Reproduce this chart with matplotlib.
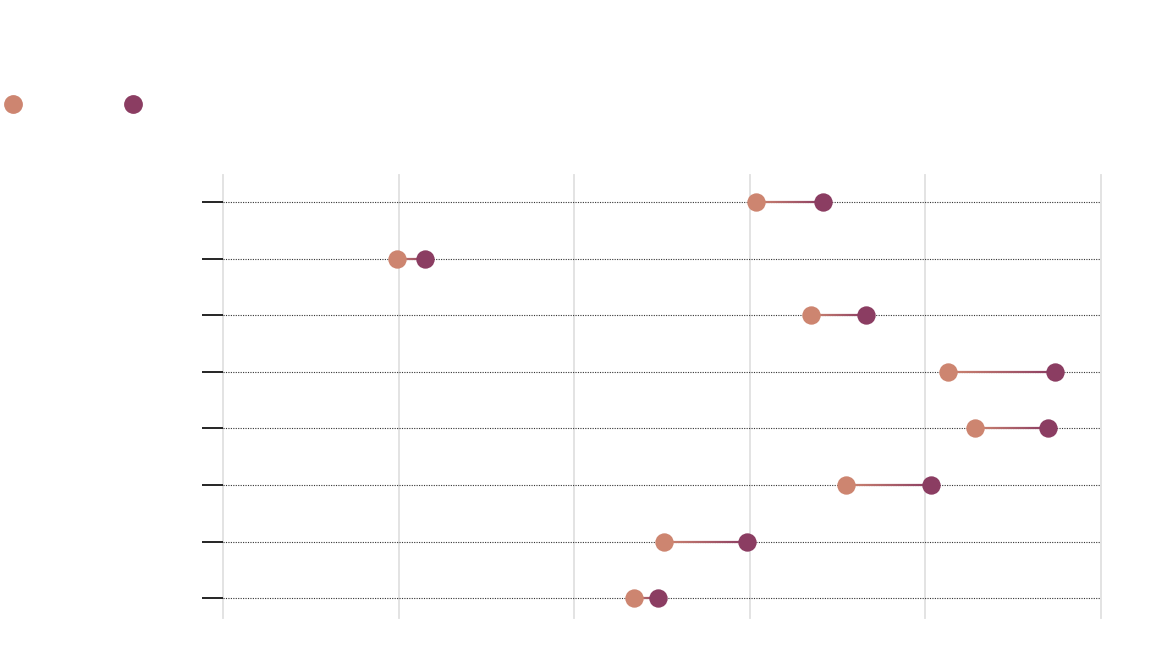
import matplotlib
matplotlib.use('Agg')
from matplotlib import pyplot as plt
from matplotlib.collections import LineCollection
from matplotlib.lines import Line2D
import matplotlib.colors as mcolors
import numpy as np

# data (no labels are shown in the reference)
rows = [0, 1, 2, 3, 4, 5, 6, 7]
start_vals = [60.7, 19.8, 67.0, 82.6, 85.6, 71.0, 50.2, 46.8]
end_vals = [68.3, 23.0, 73.2, 94.8, 94.0, 80.6, 59.7, 49.5]
x_ticks = [0, 20, 40, 60, 80, 100]

c_start = '#cd8570'
c_end = '#8b3d62'

fig = plt.figure(figsize=(11.6, 6.62), dpi=100)
ax = fig.add_axes([223 / 1160, 1 - 618 / 662, (1101 - 223) / 1160, (618 - 175) / 662])

# gradient connectors
cmap = mcolors.LinearSegmentedColormap.from_list('dumb', [c_start, c_end])
for y, a, b in zip(rows, start_vals, end_vals):
    xs = np.linspace(a, b, 40)
    pts = np.array([xs, np.full_like(xs, y)]).T.reshape(-1, 1, 2)
    segs = np.concatenate([pts[:-1], pts[1:]], axis=1)
    lc = LineCollection(segs, cmap=cmap, linewidth=1.6, zorder=3)
    lc.set_array(np.linspace(0, 1, len(segs)))
    ax.add_collection(lc)

ax.scatter(start_vals, rows, s=175, color=c_start, zorder=4, linewidths=0)
ax.scatter(end_vals, rows, s=175, color=c_end, zorder=4, linewidths=0)

ax.set_xlim(0, 100)
ax.set_ylim(7.35, -0.48)
ax.set_xticks(x_ticks)
ax.set_xticklabels([])
ax.set_yticks(rows)
ax.set_yticklabels([])
ax.tick_params(axis='x', length=0)
ax.tick_params(axis='y', length=15, width=1.2, color='black')
for s in ax.spines.values():
    s.set_visible(False)

for x in x_ticks:
    ax.axvline(x, color='#e0e0e0', lw=1.3, zorder=0, clip_on=False)
for y in rows:
    ax.axhline(y, color='#333333', lw=0.8, ls=(0, (1, 1.2)), zorder=1)

# legend markers, no text
h1 = Line2D([], [], marker='o', ls='', color=c_start, markersize=12.5)
h2 = Line2D([], [], marker='o', ls='', color=c_end, markersize=12.5)
fig.legend([h1, h2], ['', ''], loc='center left', bbox_to_anchor=(6 / 1160, 1 - 105 / 662),
           ncol=2, frameon=False, handlelength=1.0, handletextpad=0.0,
           columnspacing=7.65, borderpad=0, borderaxespad=0)

plt.savefig('out.png', dpi=100)
